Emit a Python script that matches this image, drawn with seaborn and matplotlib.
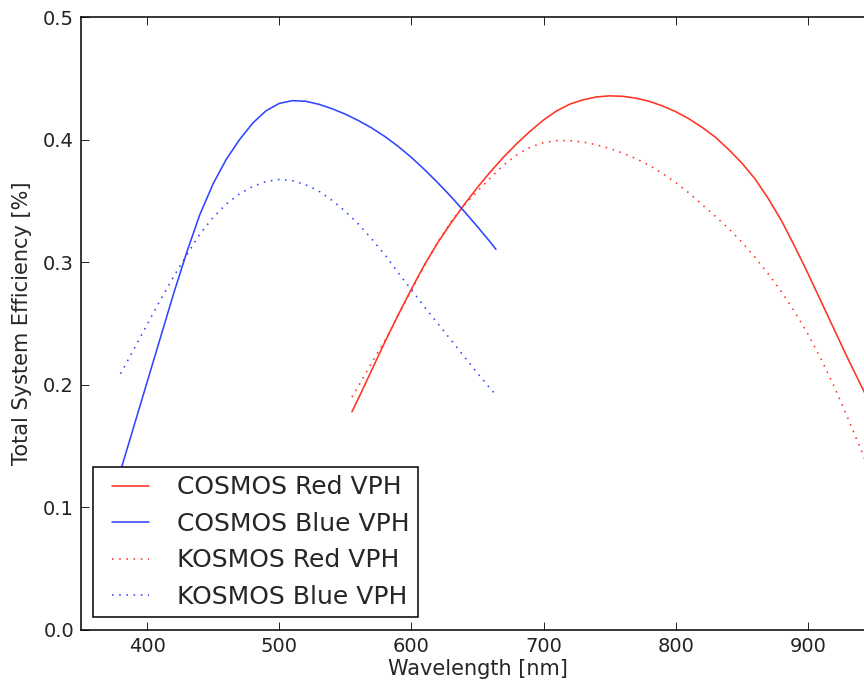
import matplotlib
matplotlib.use('Agg')
import matplotlib.pyplot as plt
from matplotlib.legend_handler import HandlerLine2D
import seaborn as sns

# values
wl_cosmos_red = [555, 560, 570, 580, 590, 600, 610, 620, 630, 640, 650, 660, 670, 680, 690, 700,
                 710, 720, 730, 740, 750, 760, 770, 780, 790, 800, 810, 820, 830, 840, 850, 860,
                 870, 880, 890, 900, 910, 920, 930, 940, 950]
eff_cosmos_red = [0.178, 0.189, 0.212, 0.235, 0.257, 0.278, 0.298, 0.316, 0.332, 0.347, 0.361, 0.374,
                  0.386, 0.397, 0.407, 0.416, 0.4235, 0.429, 0.4325, 0.4348, 0.4357, 0.4353, 0.4338,
                  0.4312, 0.4275, 0.4228, 0.417, 0.410, 0.402, 0.392, 0.381, 0.368, 0.352, 0.334,
                  0.313, 0.291, 0.268, 0.245, 0.222, 0.200, 0.178]

wl_cosmos_blue = [380, 390, 400, 410, 420, 430, 440, 450, 460, 470, 480, 490, 500, 510, 520, 530,
                  540, 550, 560, 570, 580, 590, 600, 610, 620, 630, 640, 650, 660, 664]
eff_cosmos_blue = [0.130, 0.166, 0.202, 0.238, 0.274, 0.308, 0.339, 0.364, 0.384, 0.400, 0.4135,
                   0.4235, 0.4295, 0.4318, 0.4313, 0.4288, 0.4252, 0.4208, 0.4155, 0.4095, 0.4025,
                   0.3945, 0.3855, 0.3755, 0.3648, 0.3535, 0.3415, 0.329, 0.316, 0.3105]

wl_kosmos_red = wl_cosmos_red
eff_kosmos_red = [0.190, 0.199, 0.218, 0.236, 0.2565, 0.277, 0.2975, 0.3165, 0.333, 0.3465, 0.358,
                  0.369, 0.3795, 0.3878, 0.3938, 0.3975, 0.3992, 0.3992, 0.398, 0.3958, 0.3928,
                  0.389, 0.3845, 0.379, 0.3725, 0.365, 0.3565, 0.347, 0.3375, 0.3275, 0.3165,
                  0.304, 0.2905, 0.276, 0.2595, 0.2415, 0.221, 0.1985, 0.1735, 0.1475, 0.121]

wl_kosmos_blue = [380, 390, 400, 410, 420, 430, 440, 450, 460, 470, 480, 490, 500, 510, 520, 530,
                  540, 550, 560, 570, 580, 590, 600, 610, 620, 630, 640, 650, 660, 663]
eff_kosmos_blue = [0.209, 0.229, 0.249, 0.269, 0.288, 0.306, 0.323, 0.3365, 0.3475, 0.3558, 0.3618,
                   0.3658, 0.3675, 0.3665, 0.3632, 0.358, 0.3505, 0.3415, 0.331, 0.319, 0.306,
                   0.2915, 0.2775, 0.2635, 0.250, 0.2365, 0.223, 0.2095, 0.1965, 0.193]

red = '#ff3322'
blue = '#2f45ff'

sns.set_style('ticks')
plt.rcParams.update({
    'font.family': ['DejaVu Sans'],
    'xtick.direction': 'in', 'ytick.direction': 'in',
    'xtick.top': True, 'ytick.right': True,
    'xtick.major.size': 6, 'ytick.major.size': 6,
    'xtick.major.width': 0.7, 'ytick.major.width': 0.7,
    'xtick.major.pad': 5, 'ytick.major.pad': 5,
    'xtick.color': '#222222', 'ytick.color': '#222222',
    'axes.edgecolor': 'black', 'axes.linewidth': 1.1,
})

fig = plt.figure(figsize=(8.64, 6.81), dpi=100)
# the reference is cropped: the right edge of the axes lies just outside the picture
ax = fig.add_axes([0.0937, 0.0749, 0.9178, 0.9001])

dots = (0, (1, 3.5))
sns.lineplot(x=wl_cosmos_red, y=eff_cosmos_red, ax=ax, color=red, lw=1.15, label='COSMOS Red VPH')
sns.lineplot(x=wl_cosmos_blue, y=eff_cosmos_blue, ax=ax, color=blue, lw=1.15, label='COSMOS Blue VPH')
sns.lineplot(x=wl_kosmos_red, y=eff_kosmos_red, ax=ax, color=red, lw=1.15, linestyle=dots,
             label='KOSMOS Red VPH')
sns.lineplot(x=wl_kosmos_blue, y=eff_kosmos_blue, ax=ax, color=blue, lw=1.15, linestyle=dots,
             label='KOSMOS Blue VPH')

ax.set_xlim(350, 950)
ax.set_ylim(0, 0.5)
ax.set_xticks([400, 500, 600, 700, 800, 900])
ax.set_yticks([0.0, 0.1, 0.2, 0.3, 0.4, 0.5])
ax.tick_params(labelsize=14)
ax.set_xlabel('Wavelength [nm]', fontsize=15, labelpad=2)
ax.set_ylabel('Total System Efficiency [%]', fontsize=15, labelpad=8)

leg = ax.legend(loc='lower left', fontsize=18, fancybox=False, framealpha=1, edgecolor='black',
                borderpad=0.34, labelspacing=0.5, handlelength=1.9, handletextpad=1.1,
                borderaxespad=0.5, handler_map={plt.Line2D: HandlerLine2D(xpad=0.4)})
leg.get_frame().set_linewidth(1.1)

fig.savefig('out.png', dpi=100)
